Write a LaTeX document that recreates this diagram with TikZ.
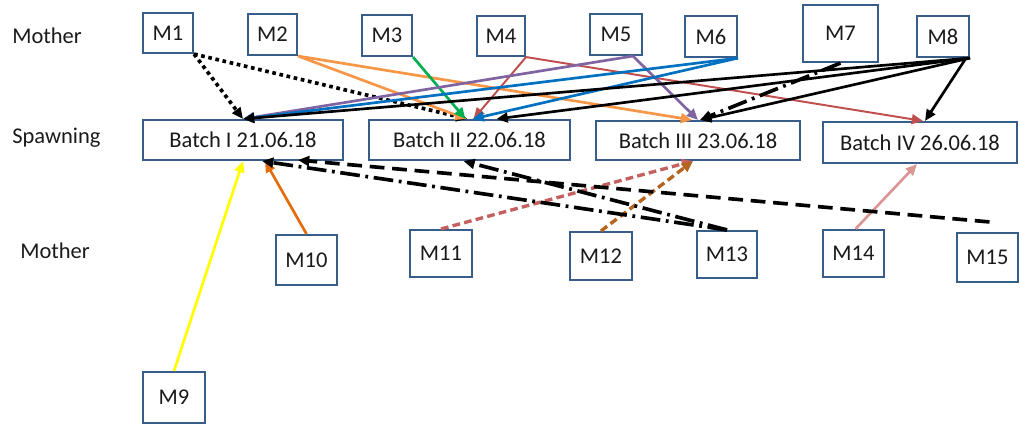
\documentclass[tikz,border=0pt]{standalone}
\usepackage{fontspec}
\setmainfont{Carlito}
\usetikzlibrary{arrows.meta,calc}

\definecolor{boxline}{HTML}{385D8A}
\definecolor{textc}{HTML}{1A1A1A}
\definecolor{corange}{HTML}{F79646}
\definecolor{cgreen}{HTML}{00B050}
\definecolor{cred}{HTML}{C0504D}
\definecolor{cpurple}{HTML}{8064A2}
\definecolor{cblue}{HTML}{0070C0}
\definecolor{cyellow}{HTML}{FFFF00}
\definecolor{cdarkorange}{HTML}{E46C0A}
\definecolor{crose}{HTML}{C46060}
\definecolor{cbrown}{HTML}{B5651D}
\definecolor{cpink}{HTML}{D99694}

\begin{document}
\begin{tikzpicture}[x=0.025cm,y=-0.025cm,
  mbox/.style={draw=boxline, line width=1.5pt, fill=white, inner sep=0pt,
    font=\fontsize{16}{19}\selectfont, text=textc},
  sz/.style 2 args={minimum width=#1*0.025cm, minimum height=#2*0.025cm},
  rowlabel/.style={anchor=base west, inner sep=0pt,
    font=\fontsize{16}{19}\selectfont, text=textc},
  link/.style={line width=1.9pt, -{Triangle[length=8pt,width=7pt]}},
  thinlink/.style={link, line width=1.4pt},
  dotlink/.style={link, line width=2.6pt, dash pattern=on 2.6pt off 2.6pt},
  dashlink/.style={link, line width=2.6pt, dash pattern=on 10.5pt off 5.5pt},
  shortdash/.style={link, line width=2.4pt, dash pattern=on 5.5pt off 3pt},
  dashdot/.style={link, line width=2.6pt, dash pattern=on 14pt off 4pt on 2pt off 4pt},
]
\useasboundingbox (0,0) rectangle (1020,424);

% row labels
\node[rowlabel] (lm1) at (12,43) {Mother};
\node[rowlabel] (ls) at (12,143) {Spawning};
\node[rowlabel] (lm2) at (20,258) {Mother};

% mothers, upper row
\node[mbox, sz={50}{40}] (M1) at (168,33) {M1};
\node[mbox, sz={49}{41}] (M2) at (272.5,34.5) {M2};
\node[mbox, sz={50}{41}] (M3) at (387,35.5) {M3};
\node[mbox, sz={48}{40}] (M4) at (501,36) {M4};
\node[mbox, sz={52}{41}] (M5) at (616,34.5) {M5};
\node[mbox, sz={52}{41}] (M6) at (711,36.5) {M6};
\node[mbox, sz={75}{57}] (M7) at (840.5,33.5) {M7};
\node[mbox, sz={52}{41}] (M8) at (943,36.5) {M8};

% spawning batches
\node[mbox, sz={200}{40}] (B1) at (243,140) {Batch I 21.06.18};
\node[mbox, sz={201}{40}] (B2) at (469.5,140) {Batch II 22.06.18};
\node[mbox, sz={204}{39}] (B3) at (698,140.5) {Batch III 23.06.18};
\node[mbox, sz={194}{41}] (B4) at (920,142.5) {Batch IV 26.06.18};

% mothers, lower row
\node[mbox, sz={61}{50}] (M10) at (306.5,260) {M10};
\node[mbox, sz={62}{47}] (M11) at (441,253.5) {M11};
\node[mbox, sz={62}{48}] (M12) at (601,256) {M12};
\node[mbox, sz={60}{47}] (M13) at (727,254.5) {M13};
\node[mbox, sz={61}{47}] (M14) at (853.5,253.5) {M14};
\node[mbox, sz={61}{49}] (M15) at (987.5,257.5) {M15};
\node[mbox, sz={62}{51}] (M9) at (174,397.5) {M9};

% upper connectors
\draw[dotlink] (M1.south east) -- (B1.north);
\draw[dotlink] (M1.south east) -- ($(B2.north)+(-2,0)$);
\draw[link, corange] (M2.south east) -- ($(B2.north)+(-3,0)$);
\draw[link, corange] (M2.south east) -- ($(B3.north)+(-6,0)$);
\draw[link, cgreen] (M3.south east) -- ($(B2.north)+(-4,0)$);
\draw[thinlink, cred] (M4.south east) -- ($(B2.north)+(4,0)$);
\draw[thinlink, cred] (M4.south east) -- ($(B4.north)+(3,0)$);
\draw[link, cpurple] ($(M5.south)+(17,0)$) -- (B1.north);
\draw[link, cpurple] ($(M5.south)+(17,0)$) -- (B3.north);
\draw[link, cblue] (M6.south east) -- (B1.north);
\draw[link, cblue] (M6.south east) -- ($(B2.north)+(3,0)$);
\draw[dashdot] (M7.south) -- ($(B3.north)+(2,0)$);
\draw[link] (M8.south east) -- (B1.north);
\draw[link] (M8.south east) -- ($(B2.north)+(27,0)$);
\draw[link] (M8.south east) -- ($(B3.north)+(2,0)$);
\draw[link] ($(M8.south east)+(-4,0)$) -- ($(B4.north)+(5,0)$);

% lower connectors
\draw[link, cyellow] (M9.north) -- (B1.south);
\draw[link, cdarkorange] (M10.north) -- ($(B1.south)+(22,0)$);
\draw[shortdash, crose] (M11.north) -- ($(B3.south)+(-5,0)$);
\draw[shortdash, cbrown] (M12.north) -- ($(B3.south)+(-5,0)$);
\draw[dashdot] (M13.north) -- ($(B1.south)+(19,0)$);
\draw[dashdot] (M13.north) -- ($(B2.south)+(-6,0)$);
\draw[link, cpink] ($(M14.north)+(2,0)$) -- ($(B4.south)+(-3,0)$);
\draw[dashlink] ($(M15.north)+(2,-10)$) -- ($(B1.south)+(55,-1)$);
\end{tikzpicture}
\end{document}
